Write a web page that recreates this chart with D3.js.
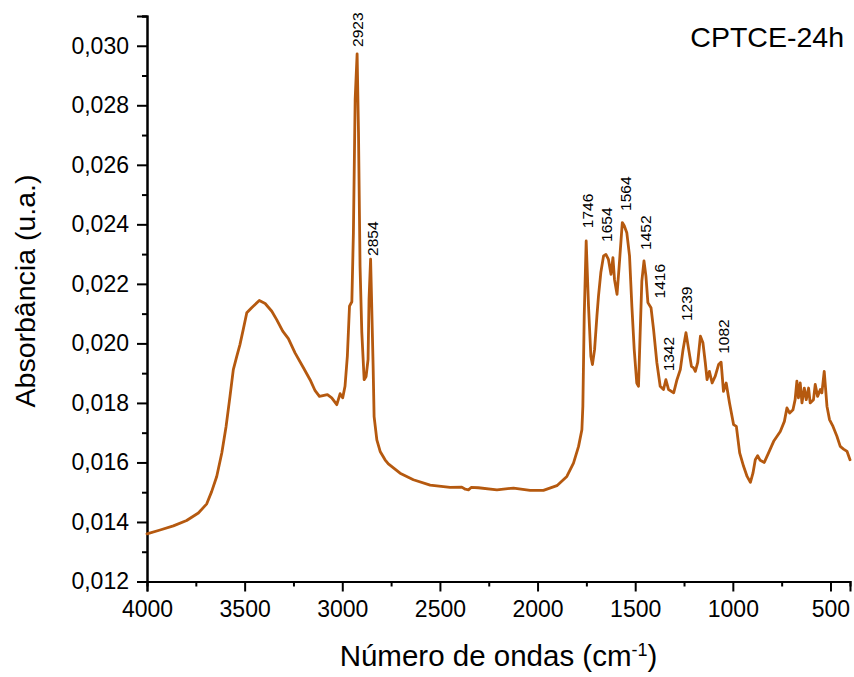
<!DOCTYPE html>
<html>
<head>
<meta charset="utf-8">
<script src="https://cdn.jsdelivr.net/npm/d3@7"></script>
<style>
  body { margin: 0; background: #fff; }
  svg { display: block; font-family: Arial, "Liberation Sans", sans-serif; }
</style>
</head>
<body>
<svg></svg>
<script>
// FTIR spectrum (wavenumber in cm-1, absorbance)
let wavenumbers = [
  4000, 3933, 3865, 3797, 3737, 3694, 3669, 3643, 3617, 3595, 3575, 3558, 3540, 3524, 3507, 3489,
  3464, 3425, 3395, 3361, 3336, 3305, 3276, 3242, 3199, 3165, 3139, 3117, 3076, 3054, 3028, 3011,
  2998, 2986, 2974, 2963, 2951, 2943, 2934, 2924, 2917, 2909, 2900, 2888, 2878, 2868, 2863, 2855,
  2850, 2842, 2837, 2823, 2806, 2781, 2764, 2704, 2636, 2550, 2448, 2388, 2370, 2354, 2340, 2303,
  2208, 2123, 2038, 1970, 1901, 1850, 1816, 1790, 1773, 1768, 1761, 1751, 1739, 1727, 1719, 1708,
  1696, 1688, 1676, 1662, 1650, 1637, 1624, 1614, 1606, 1593, 1582, 1566, 1556, 1543, 1529, 1517,
  1505, 1492, 1483, 1474, 1466, 1455, 1445, 1435, 1419, 1406, 1389, 1372, 1355, 1343, 1329, 1303,
  1286, 1269, 1255, 1240, 1226, 1212, 1201, 1192, 1180, 1166, 1153, 1141, 1132, 1120, 1106, 1090,
  1073, 1060, 1048, 1034, 1017, 996, 982, 965, 945, 927, 910, 897, 885, 873, 860, 839,
  817, 791, 757, 736, 723, 709, 692, 681, 672, 664, 655, 646, 634, 624, 612, 604,
  587, 578, 566, 552, 544, 532, 518, 505, 487, 467, 450, 433, 415, 400
]
let absorbance = [
  0.01360, 0.01373, 0.01387, 0.01405, 0.01430, 0.01461, 0.01502, 0.01553, 0.01632, 0.01721, 0.01822, 0.01912, 0.01957, 0.01996, 0.02047, 0.02103,
  0.02120, 0.02144, 0.02134, 0.02108, 0.02080, 0.02041, 0.02016, 0.01968, 0.01918, 0.01878, 0.01841, 0.01822, 0.01828, 0.01817, 0.01794, 0.01831,
  0.01817, 0.01856, 0.01957, 0.02125, 0.02140, 0.02373, 0.02821, 0.02973, 0.02710, 0.02259, 0.02037, 0.01878, 0.01889, 0.01946, 0.02148, 0.02283,
  0.02148, 0.01922, 0.01754, 0.01676, 0.01637, 0.01609, 0.01595, 0.01564, 0.01542, 0.01524, 0.01516, 0.01517, 0.01510, 0.01508, 0.01516, 0.01515,
  0.01508, 0.01514, 0.01506, 0.01506, 0.01522, 0.01553, 0.01598, 0.01654, 0.01710, 0.01789, 0.02092, 0.02344, 0.02125, 0.01957, 0.01929, 0.01979,
  0.02092, 0.02159, 0.02238, 0.02294, 0.02299, 0.02282, 0.02232, 0.02288, 0.02215, 0.02165, 0.02260, 0.02406, 0.02395, 0.02372, 0.02294, 0.02125,
  0.01979, 0.01867, 0.01856, 0.02047, 0.02209, 0.02277, 0.02226, 0.02137, 0.02120, 0.02047, 0.01935, 0.01856, 0.01845, 0.01878, 0.01845, 0.01834,
  0.01878, 0.01912, 0.01979, 0.02036, 0.01979, 0.01923, 0.01918, 0.01906, 0.01935, 0.02024, 0.02002, 0.01935, 0.01878, 0.01906, 0.01867, 0.01890,
  0.01929, 0.01937, 0.01839, 0.01867, 0.01800, 0.01727, 0.01721, 0.01632, 0.01587, 0.01553, 0.01533, 0.01564, 0.01609, 0.01623, 0.01607, 0.01600,
  0.01632, 0.01671, 0.01704, 0.01738, 0.01783, 0.01766, 0.01777, 0.01811, 0.01873, 0.01817, 0.01867, 0.01800, 0.01850, 0.01811, 0.01850, 0.01800,
  0.01811, 0.01862, 0.01822, 0.01845, 0.01834, 0.01906, 0.01789, 0.01744, 0.01721, 0.01688, 0.01654, 0.01645, 0.01637, 0.01609
]

// peak annotations: text, where the label sits (wavenumber), absorbance at the label's foot
let peakNames = ["2923", "2854", "1746", "1654", "1564", "1452", "1416", "1342", "1239", "1082"]
let peakLabelWn = [2924, 2847, 1747, 1648, 1551, 1449, 1377, 1329, 1239, 1047]
let peakLabelAbs = [0.02996, 0.02294, 0.02387, 0.02341, 0.02445, 0.02314, 0.02151, 0.01906, 0.02075, 0.01965]

let xTicks = [4000, 3500, 3000, 2500, 2000, 1500, 1000, 500]
let xMinorTicks = [3750, 3250, 2750, 2250, 1750, 1250, 750]
let yTicks = [0.012, 0.014, 0.016, 0.018, 0.020, 0.022, 0.024, 0.026, 0.028, 0.030]
let yMinorTicks = [0.013, 0.015, 0.017, 0.019, 0.021, 0.023, 0.025, 0.027, 0.029, 0.031]

let sampleName = "CPTCE-24h"

let width = 854
let height = 677
let padLeft = 147, padRight = 850, padTop = 16, padBottom = 581.5

let svg = d3.select('svg').attr("width", width).attr("height", height)

let xScale = d3.scaleLinear().domain([4000, 400]).range([padLeft, padRight])
let yScale = d3.scaleLinear().domain([0.012, 0.031]).range([padBottom, padTop])

let comma = v => d3.format(".3f")(v).replace(".", ",")

// axes
let xAxis = d3.axisBottom(xScale).tickValues(xTicks).tickFormat(d3.format("d")).tickSize(10).tickPadding(9)
let xMinor = d3.axisBottom(xScale).tickValues(xMinorTicks).tickFormat("").tickSize(5)
let yAxis = d3.axisLeft(yScale).tickValues(yTicks).tickFormat(comma).tickSize(10).tickPadding(8)
let yMinor = d3.axisLeft(yScale).tickValues(yMinorTicks).tickFormat("").tickSize(5)

svg.append("g").attr("transform", "translate(0," + padBottom + ")").call(xAxis)
svg.append("g").attr("transform", "translate(0," + padBottom + ")").call(xMinor)
svg.append("g").attr("transform", "translate(" + padLeft + ",0)").call(yAxis)
svg.append("g").attr("transform", "translate(" + padLeft + ",0)").call(yMinor)

svg.selectAll(".domain").attr("stroke", "#000").attr("stroke-width", 2)
svg.selectAll(".tick line").attr("stroke", "#000").attr("stroke-width", 2)
svg.selectAll(".tick text").attr("fill", "#000").style("font-size", "23px").style("font-family", "Arial, 'Liberation Sans', sans-serif")

// spectrum
let points = wavenumbers.map((w, i) => [w, absorbance[i]])
let line = d3.line().x(d => xScale(d[0])).y(d => yScale(d[1]))

svg.append("path")
  .datum(points)
  .attr("d", line)
  .attr("fill", "none")
  .attr("stroke", "#b5590f")
  .attr("stroke-width", 2.8)
  .attr("stroke-linejoin", "round")
  .attr("stroke-linecap", "round")

// peak labels
svg.selectAll(".peak")
  .data(peakNames)
  .enter()
  .append("text")
  .attr("class", "peak")
  .attr("transform", (d, i) => "translate(" + xScale(peakLabelWn[i]) + "," + yScale(peakLabelAbs[i]) + ") rotate(-90)")
  .attr("dy", "0.36em")
  .attr("text-anchor", "start")
  .style("font-size", "15.5px")
  .attr("fill", "#000")
  .text(d => d)

// sample name
svg.append("text")
  .attr("x", 844)
  .attr("y", 47)
  .attr("text-anchor", "end")
  .style("font-size", "28.5px")
  .text(sampleName)

// axis titles
let xTitle = svg.append("text")
  .attr("x", (padLeft + padRight) / 2)
  .attr("y", 666)
  .attr("text-anchor", "middle")
  .style("font-size", "29.5px")
xTitle.append("tspan").text("Número de ondas (cm")
xTitle.append("tspan").text("-1").attr("baseline-shift", "super").style("font-size", "18px")
xTitle.append("tspan").text(")")

svg.append("text")
  .attr("transform", "translate(35,291) rotate(-90)")
  .attr("text-anchor", "middle")
  .style("font-size", "28.5px")
  .text("Absorbância (u.a.)")
</script>
</body>
</html>
